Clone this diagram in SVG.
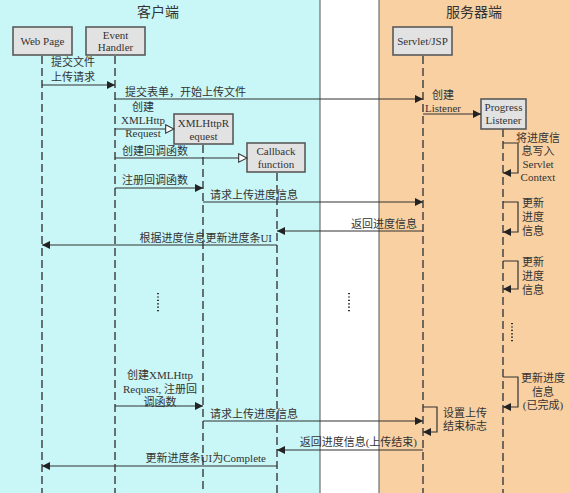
<svg xmlns="http://www.w3.org/2000/svg" width="570" height="493" viewBox="0 0 570 493">
<style>
text{font-family:"Liberation Serif","Noto Sans CJK SC",serif;font-size:11px;fill:#333}
.title{font-size:14px}
.box{fill:#e2e2e2;stroke:#5a5a5a;stroke-width:1.6}
.life{stroke:#444;stroke-width:1.5;stroke-dasharray:8,4;fill:none}
.msg{stroke:#333;stroke-width:1.2;fill:none}
.dots{stroke:#333;stroke-width:2;stroke-dasharray:1.2,2.2;fill:none}
.c{text-anchor:middle}
.r{text-anchor:end}
</style>
<defs>
<marker id="arr" viewBox="0 0 10 10" refX="10" refY="5" markerWidth="8" markerHeight="8" markerUnits="userSpaceOnUse" orient="auto">
<path d="M0,0 L10,5 L0,10 z" fill="#222"/>
</marker>
<marker id="open" viewBox="0 0 12 12" refX="11" refY="6" markerWidth="10" markerHeight="10" markerUnits="userSpaceOnUse" orient="auto">
<path d="M1,1 L11,6 L1,11 z" fill="#fff" stroke="#333" stroke-width="1.3"/>
</marker>
</defs>
<g id="background">
<rect x="0" y="0" width="320" height="493" fill="#c9f6f6"/>
<rect x="320" y="0" width="59" height="493" fill="#ffffff"/>
<rect x="379" y="0" width="191" height="493" fill="#f8d0a2"/>
<line x1="320" y1="0" x2="320" y2="493" stroke="#555" stroke-width="1"/>
<line x1="379" y1="0" x2="379" y2="493" stroke="#555" stroke-width="1"/>
<text class="title c" x="158" y="17">客户端</text>
<text class="title c" x="474" y="17">服务器端</text>
</g>
<g id="lifelines">
<line class="life" x1="42" y1="56" x2="42" y2="493"/>
<line class="life" x1="115" y1="56" x2="115" y2="493"/>
<line class="life" x1="203" y1="145" x2="203" y2="493"/>
<line class="life" x1="277" y1="173" x2="277" y2="493"/>
<line class="life" x1="423" y1="56" x2="423" y2="493"/>
<line class="life" x1="503" y1="129" x2="503" y2="493"/>
</g>
<g id="webpage"><rect class="box" x="13" y="27" width="59" height="28"/><text class="c" x="42.5" y="45">Web Page</text></g>
<g id="eventhandler"><rect class="box" x="86" y="27" width="59" height="28"/><text class="c" x="115.5" y="39">Event</text><text class="c" x="115.5" y="51">Handler</text></g>
<g id="xmlhttprequest"><rect class="box" x="174" y="114" width="59" height="30"/><text class="c" x="203.5" y="127">XMLHttpR</text><text class="c" x="203.5" y="140">equest</text></g>
<g id="callback"><rect class="box" x="247" y="143" width="58" height="29"/><text class="c" x="276" y="155">Callback</text><text class="c" x="276" y="168">function</text></g>
<g id="servlet"><rect class="box" x="393" y="27" width="59" height="28"/><text class="c" x="422.5" y="45">Servlet/JSP</text></g>
<g id="progresslistener"><rect class="box" x="481" y="99" width="45" height="30"/><text class="c" x="503.5" y="111">Progress</text><text class="c" x="503.5" y="124">Listener</text></g>
<g id="connectors">
<line class="msg" x1="42" y1="85" x2="115" y2="85" marker-end="url(#arr)"/>
<line class="msg" x1="115" y1="99" x2="423" y2="99" marker-end="url(#arr)"/>
<line class="msg" x1="423" y1="114" x2="481" y2="114" marker-end="url(#arr)"/>
<line class="msg" x1="115" y1="129" x2="174" y2="129" marker-end="url(#open)"/>
<line class="msg" x1="115" y1="158" x2="247" y2="158" marker-end="url(#open)"/>
<line class="msg" x1="115" y1="188" x2="203" y2="188" marker-end="url(#arr)"/>
<line class="msg" x1="203" y1="202" x2="423" y2="202" marker-end="url(#arr)"/>
<line class="msg" x1="423" y1="231" x2="277" y2="231" marker-end="url(#arr)"/>
<line class="msg" x1="277" y1="245" x2="42" y2="245" marker-end="url(#arr)"/>
<path class="msg" d="M503,143 H518 V173 H503" marker-end="url(#arr)"/>
<path class="msg" d="M503,202 H518 V232 H503" marker-end="url(#arr)"/>
<path class="msg" d="M503,261 H518 V289 H503" marker-end="url(#arr)"/>
<path class="msg" d="M503,377 H518 V407 H503" marker-end="url(#arr)"/>
<line class="msg" x1="115" y1="406" x2="203" y2="406" marker-end="url(#arr)"/>
<line class="msg" x1="203" y1="421" x2="423" y2="421" marker-end="url(#arr)"/>
<path class="msg" d="M423,407 H437 V432 H423" marker-end="url(#arr)"/>
<line class="msg" x1="423" y1="450" x2="277" y2="450" marker-end="url(#arr)"/>
<line class="msg" x1="277" y1="466" x2="42" y2="466" marker-end="url(#arr)"/>
<line class="dots" x1="158" y1="293" x2="158" y2="313"/>
<line class="dots" x1="349" y1="293" x2="349" y2="313"/>
<line class="dots" x1="512" y1="323" x2="512" y2="343"/>
</g>
<g id="labels">
<text x="51" y="66">提交文件</text>
<text x="51" y="81">上传请求</text>
<text x="125" y="96">提交表单，开始上传文件</text>
<text class="c" x="443" y="99">创建</text>
<text class="c" x="443" y="112">Listener</text>
<text class="c" x="143" y="111">创建</text>
<text class="c" x="143" y="124">XMLHttp</text>
<text class="c" x="143" y="137">Request</text>
<text x="122" y="155">创建回调函数</text>
<text x="122" y="184">注册回调函数</text>
<text x="210" y="199">请求上传进度信息</text>
<text class="r" x="417" y="228">返回进度信息</text>
<text class="r" x="272" y="242">根据进度信息更新进度条UI</text>
<text class="c" x="538" y="142">将进度信</text>
<text class="c" x="538" y="155">息写入</text>
<text class="c" x="538" y="168">Servlet</text>
<text class="c" x="538" y="181">Context</text>
<text class="c" x="533" y="207">更新</text>
<text class="c" x="533" y="221">进度</text>
<text class="c" x="533" y="235">信息</text>
<text class="c" x="533" y="266">更新</text>
<text class="c" x="533" y="280">进度</text>
<text class="c" x="533" y="294">信息</text>
<text class="c" x="543" y="382">更新进度</text>
<text class="c" x="543" y="396">信息</text>
<text class="c" x="543" y="409">(已完成)</text>
<text class="c" x="160" y="379">创建XMLHttp</text>
<text class="c" x="160" y="393">Request, 注册回</text>
<text class="c" x="160" y="406">调函数</text>
<text x="210" y="418">请求上传进度信息</text>
<text x="443" y="417">设置上传</text>
<text x="443" y="430">结束标志</text>
<text class="r" x="417" y="446">返回进度信息(上传结束)</text>
<text class="r" x="266" y="462">更新进度条UI为Complete</text>
</g>
</svg>
